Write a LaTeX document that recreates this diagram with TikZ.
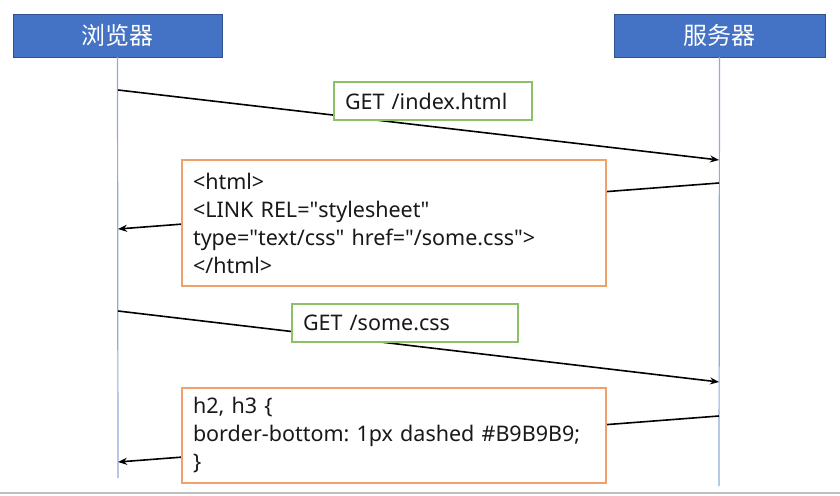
\documentclass[tikz,border=0pt]{standalone}
\usepackage{fontspec}
\setmainfont{Noto Sans}
\newfontfamily\cjk{Noto Sans CJK SC}
\usetikzlibrary{arrows.meta,positioning}
\definecolor{hdrblue}{RGB}{68,114,196}
\definecolor{hdredge}{RGB}{47,82,143}
\definecolor{lifeblue}{RGB}{143,170,220}
\definecolor{reqgreen}{RGB}{140,193,104}
\definecolor{resporange}{RGB}{240,160,105}
\definecolor{txtdark}{RGB}{25,25,25}
\newcommand{\qt}{\XeTeXglyph\XeTeXcharglyph"22\relax}
\frenchspacing

\begin{document}
\begin{tikzpicture}[x=1pt,y=-1pt,
    actor/.style={draw=hdredge,fill=hdrblue,text=white,minimum height=43pt,
      font=\cjk\fontsize{24}{28}\selectfont},
    lifeline/.style={draw=lifeblue,line width=1.2pt},
    msg/.style={line width=1.6pt,-{Stealth[length=9pt,width=7pt]}},
    req/.style={draw=reqgreen,line width=1.2pt,fill=white,text=txtdark,
      minimum height=38pt,inner xsep=11pt,text width=#1,align=left,
      font=\fontsize{21.5}{28}\selectfont},
    resp/.style={draw=resporange,line width=1.4pt,fill=white,text=txtdark,
      minimum height=#1,inner xsep=11pt,text width=402pt,align=left,
      font=\fontsize{21.5}{28}\selectfont},
  ]
    \useasboundingbox (0,0) rectangle (840,495);
    % Actors
    \node[actor, minimum width=209pt] (browser) at (117.5,35.5) {浏览器};
    \node[actor, minimum width=211pt] (server) at (719.5,35.5) {服务器};
    \coordinate (bend) at (118,478);
    \coordinate (send) at (719,486);
    \draw[lifeline] (browser.south) -- (bend);
    \draw[lifeline] (server.south) -- (send);
    % Points on the lifelines
    \coordinate (b1) at (118,90);   \coordinate (s1) at (719,160);
    \coordinate (s2) at (719,183);  \coordinate (b2) at (118,229);
    \coordinate (b3) at (118,311);  \coordinate (s3) at (719,382);
    \coordinate (s4) at (719,416);  \coordinate (b4) at (118,462);
    % Messages
    \draw[msg] (b1) -- (s1);
    \draw[msg] (s2) -- (b2);
    \draw[msg] (b3) -- (s3);
    \draw[msg] (s4) -- (b4);
    % Labels
    \node[req=176pt] (getindex) at (433,101) {GET /index.html};
    \node[resp=126pt] (html) at (394,223) {<html>\\<LINK REL=\qt stylesheet\qt\\type=\qt text/css\qt{} href=\qt/some.css\qt>\\</html>};
    \node[req=204pt] (getcss) at (405,323) {GET /some.css};
    \node[resp=95pt] (css) at (394,435.5) {h2, h3 \{\\border-bottom: 1px dashed \#B9B9B9;\\\}};
    % Bottom rule
    \draw[gray!50, line width=2pt] (0,493) -- (840,493);
  \end{tikzpicture}
\end{document}
